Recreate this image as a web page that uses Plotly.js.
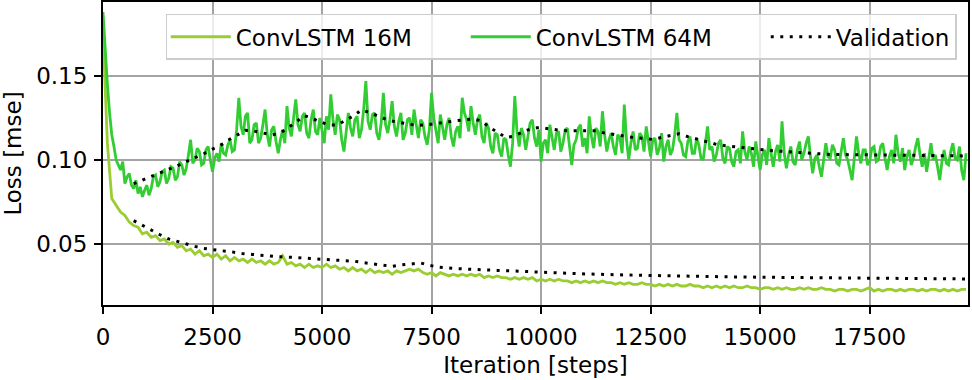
<!DOCTYPE html>
<html>
<head>
<meta charset="utf-8">
<script src="https://cdn.plot.ly/plotly-3.0.1.min.js"></script>
<style>
  html, body { margin: 0; padding: 0; background: #fff; }
  #losschart { width: 972px; height: 380px; }
</style>
</head>
<body>
<div id="losschart"></div>
<script>
// logging intervals (iterations between two logged training losses)
var STEP_16M = 100;
var STEP_64M = 50;

var loss16M = [
    0.176, 0.110, 0.077, 0.073, 0.069, 0.067, 0.063, 0.061, 0.060, 0.056,  // 0
    0.057, 0.054, 0.055, 0.052, 0.053, 0.050, 0.051, 0.048, 0.049, 0.046,  // 1000
    0.047, 0.044, 0.046, 0.043, 0.044, 0.042, 0.044, 0.041, 0.043, 0.040,  // 2000
    0.042, 0.040, 0.041, 0.039, 0.041, 0.039, 0.040, 0.038, 0.040, 0.038,  // 3000
    0.039, 0.043, 0.038, 0.039, 0.037, 0.038, 0.036, 0.038, 0.036, 0.037,  // 4000
    0.036, 0.038, 0.036, 0.037, 0.035, 0.036, 0.034, 0.036, 0.034, 0.035,  // 5000
    0.033, 0.035, 0.033, 0.034, 0.033, 0.034, 0.032, 0.034, 0.033, 0.034,  // 6000
    0.035, 0.034, 0.035, 0.033, 0.032, 0.033, 0.031, 0.033, 0.032, 0.031,  // 7000
    0.032, 0.031, 0.032, 0.031, 0.032, 0.031, 0.032, 0.030, 0.031, 0.030,  // 8000
    0.031, 0.030, 0.030, 0.029, 0.030, 0.029, 0.030, 0.029, 0.030, 0.028,  // 9000
    0.029, 0.028, 0.029, 0.028, 0.029, 0.028, 0.028, 0.027, 0.028, 0.027,  // 10000
    0.028, 0.027, 0.028, 0.027, 0.028, 0.027, 0.027, 0.026, 0.027, 0.026,  // 11000
    0.027, 0.026, 0.026, 0.027, 0.026, 0.026, 0.025, 0.026, 0.025, 0.026,  // 12000
    0.025, 0.026, 0.025, 0.025, 0.026, 0.025, 0.025, 0.024, 0.025, 0.024,  // 13000
    0.025, 0.024, 0.025, 0.024, 0.025, 0.024, 0.024, 0.025, 0.024, 0.024,  // 14000
    0.023, 0.024, 0.024, 0.023, 0.024, 0.023, 0.024, 0.023, 0.023, 0.024,  // 15000
    0.023, 0.024, 0.023, 0.023, 0.024, 0.023, 0.023, 0.022, 0.023, 0.023,  // 16000
    0.022, 0.023, 0.023, 0.022, 0.023, 0.024, 0.022, 0.023, 0.022, 0.023,  // 17000
    0.023, 0.022, 0.023, 0.022, 0.023, 0.023, 0.022, 0.023, 0.022, 0.023,  // 18000
    0.023, 0.022, 0.023, 0.022, 0.023, 0.022, 0.023, 0.023                 // 19000
];

var loss64M = [
    0.188, 0.165, 0.145, 0.128, 0.115, 0.108, 0.100, 0.097, 0.094, 0.099, 0.086, 0.090, 0.092, 0.085, 0.083, 0.088, 0.080, 0.084, 0.078, 0.082,  // 0
    0.085, 0.079, 0.083, 0.090, 0.091, 0.084, 0.087, 0.093, 0.094, 0.086, 0.089, 0.096, 0.095, 0.088, 0.090, 0.099, 0.097, 0.091, 0.095, 0.103,  // 1000
    0.112, 0.098, 0.100, 0.107, 0.105, 0.097, 0.098, 0.106, 0.108, 0.100, 0.093, 0.101, 0.104, 0.099, 0.110, 0.104, 0.103, 0.109, 0.112, 0.105,  // 2000
    0.106, 0.118, 0.137, 0.120, 0.115, 0.126, 0.128, 0.110, 0.112, 0.121, 0.122, 0.110, 0.113, 0.121, 0.130, 0.115, 0.108, 0.118, 0.120, 0.111,  // 3000
    0.104, 0.112, 0.118, 0.110, 0.132, 0.119, 0.114, 0.125, 0.136, 0.121, 0.117, 0.126, 0.128, 0.116, 0.113, 0.124, 0.130, 0.117, 0.115, 0.125,  // 4000
    0.118, 0.110, 0.126, 0.118, 0.139, 0.124, 0.115, 0.127, 0.124, 0.112, 0.105, 0.118, 0.128, 0.119, 0.114, 0.124, 0.126, 0.113, 0.118, 0.130,  // 5000
    0.147, 0.123, 0.118, 0.127, 0.128, 0.116, 0.112, 0.122, 0.140, 0.121, 0.116, 0.124, 0.135, 0.120, 0.114, 0.123, 0.128, 0.112, 0.116, 0.124,  // 6000
    0.125, 0.115, 0.130, 0.121, 0.113, 0.124, 0.122, 0.114, 0.109, 0.118, 0.140, 0.125, 0.118, 0.110, 0.127, 0.119, 0.112, 0.121, 0.125, 0.114,  // 7000
    0.108, 0.117, 0.120, 0.113, 0.137, 0.128, 0.124, 0.117, 0.132, 0.122, 0.115, 0.124, 0.127, 0.114, 0.110, 0.122, 0.119, 0.108, 0.104, 0.116,  // 8000
    0.115, 0.106, 0.102, 0.113, 0.112, 0.103, 0.096, 0.110, 0.138, 0.117, 0.108, 0.119, 0.115, 0.106, 0.114, 0.122, 0.124, 0.113, 0.108, 0.118,  // 9000
    0.099, 0.110, 0.112, 0.104, 0.121, 0.113, 0.106, 0.116, 0.117, 0.105, 0.110, 0.118, 0.119, 0.108, 0.097, 0.109, 0.112, 0.119, 0.121, 0.108,  // 10000
    0.113, 0.104, 0.126, 0.114, 0.107, 0.119, 0.117, 0.108, 0.129, 0.115, 0.105, 0.112, 0.116, 0.108, 0.103, 0.115, 0.113, 0.104, 0.133, 0.112,  // 11000
    0.100, 0.110, 0.117, 0.106, 0.107, 0.116, 0.114, 0.105, 0.120, 0.111, 0.102, 0.112, 0.113, 0.103, 0.107, 0.116, 0.099, 0.108, 0.112, 0.103,  // 12000
    0.106, 0.115, 0.128, 0.112, 0.110, 0.103, 0.102, 0.111, 0.114, 0.104, 0.104, 0.113, 0.109, 0.101, 0.100, 0.110, 0.120, 0.106, 0.108, 0.099,  // 13000
    0.103, 0.110, 0.112, 0.101, 0.098, 0.108, 0.107, 0.099, 0.096, 0.105, 0.106, 0.098, 0.117, 0.105, 0.100, 0.108, 0.104, 0.096, 0.111, 0.102,  // 14000
    0.094, 0.103, 0.106, 0.097, 0.113, 0.104, 0.096, 0.105, 0.109, 0.099, 0.123, 0.104, 0.095, 0.103, 0.108, 0.099, 0.097, 0.106, 0.111, 0.100,  // 15000
    0.104, 0.110, 0.114, 0.102, 0.092, 0.101, 0.103, 0.096, 0.090, 0.100, 0.110, 0.102, 0.101, 0.109, 0.106, 0.098, 0.097, 0.105, 0.113, 0.103,  // 16000
    0.100, 0.094, 0.088, 0.101, 0.114, 0.104, 0.098, 0.106, 0.106, 0.097, 0.099, 0.107, 0.108, 0.099, 0.100, 0.108, 0.110, 0.101, 0.094, 0.102,  // 17000
    0.106, 0.098, 0.115, 0.104, 0.099, 0.107, 0.094, 0.102, 0.106, 0.097, 0.101, 0.108, 0.113, 0.103, 0.096, 0.104, 0.093, 0.101, 0.110, 0.100,  // 18000
    0.103, 0.096, 0.088, 0.099, 0.106, 0.098, 0.097, 0.105, 0.110, 0.101, 0.100, 0.108, 0.094, 0.088, 0.104                                        // 19000
];

var val16Steps = [700, 900, 1100, 1300, 1500, 1700, 1900, 2100, 2300, 2500, 2700, 2950, 3150, 3400, 3600, 3800, 4000, 4250, 4450, 4650, 4880, 5100, 5300, 5500, 5750, 5950, 6150, 6400, 6600, 6800, 7000, 7250, 7450, 7650, 7900, 8100, 9000, 10000, 11000, 12200, 13000, 14400, 16000, 17600, 19700];
var val16Loss = [0.0639, 0.0610, 0.0580, 0.0555, 0.0530, 0.0514, 0.0500, 0.0486, 0.0474, 0.0466, 0.0460, 0.0453, 0.0443, 0.0438, 0.0432, 0.0429, 0.0425, 0.0423, 0.0419, 0.0415, 0.0412, 0.0409, 0.0405, 0.0401, 0.0397, 0.0389, 0.0381, 0.0373, 0.0367, 0.0375, 0.0381, 0.0387, 0.0373, 0.0363, 0.0357, 0.0353, 0.0343, 0.0331, 0.0322, 0.0314, 0.0310, 0.0304, 0.0300, 0.0296, 0.0292];

var val64Steps = [700, 900, 1100, 1300, 1500, 1700, 1900, 2100, 2300, 2500, 2700, 2850, 3050, 3250, 3450, 3650, 3850, 4050, 4250, 4400, 4600, 4800, 4950, 5150, 5350, 5550, 5750, 5900, 6100, 6300, 6500, 6700, 6950, 7150, 7350, 7600, 7800, 8000, 8200, 8450, 8650, 8800, 9000, 9200, 9350, 9550, 9750, 9950, 10150, 10400, 10600, 11250, 11450, 11700, 11900, 12100, 12300, 12550, 12750, 12950, 13150, 13350, 13600, 13800, 14000, 14200, 14450, 14650, 14850, 15050, 15300, 15500, 15750, 15950, 16150, 16400, 16600, 17000, 17250, 17650, 18500, 19700];
var val64Loss = [0.0859, 0.0880, 0.0902, 0.0923, 0.0946, 0.0966, 0.0990, 0.1012, 0.1037, 0.1065, 0.1090, 0.1117, 0.1145, 0.1176, 0.1172, 0.1160, 0.1149, 0.1160, 0.1194, 0.1224, 0.1264, 0.1245, 0.1228, 0.1208, 0.1208, 0.1238, 0.1268, 0.1298, 0.1281, 0.1259, 0.1238, 0.1226, 0.1216, 0.1206, 0.1208, 0.1218, 0.1226, 0.1232, 0.1238, 0.1244, 0.1232, 0.1198, 0.1167, 0.1133, 0.1140, 0.1163, 0.1184, 0.1194, 0.1186, 0.1178, 0.1174, 0.1174, 0.1160, 0.1149, 0.1139, 0.1134, 0.1129, 0.1122, 0.1134, 0.1145, 0.1156, 0.1139, 0.1121, 0.1105, 0.1093, 0.1085, 0.1077, 0.1070, 0.1065, 0.1061, 0.1055, 0.1051, 0.1045, 0.1043, 0.1039, 0.1036, 0.1033, 0.1032, 0.1030, 0.1027, 0.1026, 0.1024];

var xTicks = [0, 2500, 5000, 7500, 10000, 12500, 15000, 17500];
var yTicks = [0.05, 0.10, 0.15];

var steps16M = loss16M.map(function (v, i) { return i * STEP_16M; });
var steps64M = loss64M.map(function (v, i) { return i * STEP_64M; });

var FONT = '"DejaVu Sans", sans-serif';

var trace1 = {
    x: steps16M,
    y: loss16M,
    type: 'scatter',
    mode: 'lines',
    name: 'ConvLSTM 16M',
    legendwidth: 225,
    line: { color: '#9acd32', width: 2.8 }
};

var trace2 = {
    x: steps64M,
    y: loss64M,
    type: 'scatter',
    mode: 'lines',
    name: 'ConvLSTM 64M',
    legendwidth: 225,
    line: { color: '#32cd32', width: 2.8 }
};

var trace3 = {
    x: val16Steps,
    y: val16Loss,
    type: 'scatter',
    mode: 'lines',
    name: 'Validation',
    legendgroup: 'val',
    line: { color: 'black', width: 3, dash: '3px,6.5px' }
};

var trace4 = {
    x: val64Steps,
    y: val64Loss,
    type: 'scatter',
    mode: 'lines',
    name: 'Validation',
    legendgroup: 'val',
    showlegend: false,
    line: { color: 'black', width: 3, dash: '3px,6.5px' }
};

var axisStyle = {
    showline: true,
    mirror: true,
    linecolor: 'black',
    linewidth: 2,
    ticks: 'outside',
    ticklen: 7,
    tickwidth: 2,
    tickcolor: 'black',
    showgrid: true,
    gridcolor: '#a3a3a3',
    gridwidth: 2,
    zeroline: false,
    automargin: false,
    tickfont: { family: FONT, size: 23, color: 'black' }
};

var layout = {
    width: 972,
    height: 380,
    margin: { l: 103, r: 4, t: 2, b: 75 },
    paper_bgcolor: 'white',
    plot_bgcolor: 'white',
    font: { family: FONT, size: 23, color: 'black' },
    showlegend: true,
    legend: {
        orientation: 'h',
        x: 0.987,
        xanchor: 'right',
        y: 0.961,
        yanchor: 'top',
        bgcolor: 'rgba(255,255,255,0.8)',
        bordercolor: '#cccccc',
        borderwidth: 1.5,
        font: { family: FONT, size: 23, color: 'black' },
        itemwidth: 60
    },
    xaxis: Object.assign({}, axisStyle, {
        range: [0, 19745],
        tickvals: xTicks,
        ticktext: xTicks.map(String),
        ticklabelstandoff: 3,
        title: { text: 'Iteration [steps]', standoff: 8, font: { family: FONT, size: 23, color: 'black' } }
    }),
    yaxis: Object.assign({}, axisStyle, {
        range: [0.0137, 0.194],
        tickvals: yTicks,
        ticktext: yTicks.map(function (v) { return v.toFixed(2); }),
        ticklabelstandoff: 2,
        title: { text: 'Loss [mse]', standoff: 12, font: { family: FONT, size: 23, color: 'black' } }
    })
};

var config = { responsive: false, displayModeBar: false, staticPlot: true };
Plotly.newPlot(document.getElementById('losschart'), [trace1, trace2, trace3, trace4], layout, config);
</script>
</body>
</html>
